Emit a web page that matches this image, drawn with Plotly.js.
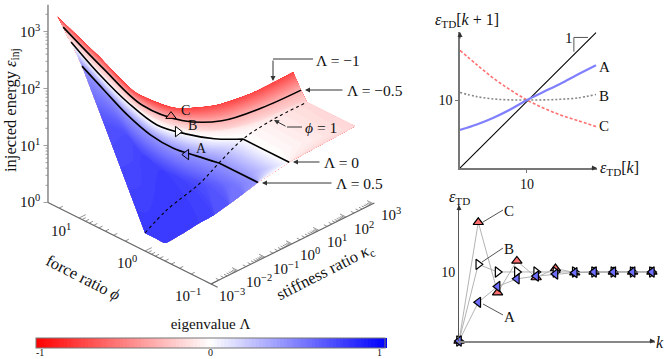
<!DOCTYPE html>
<html>
<head>
<meta charset="utf-8">
<script src="https://cdn.plot.ly/plotly-3.0.1.min.js"></script>
<style>
  html, body { margin: 0; padding: 0; background: #fff; }
  #chart { width: 665px; height: 359px; }
</style>
</head>
<body>
<div id="chart"></div>
<script>
// surface rows, all values are log10 of phi, kappa and injected energy
// rowShade is the eigenvalue the picture shows along each row
const rowShade = [-0.72, -0.3, -0.18, -0.16, 0, 0.42];

const phiM100 = [1.33, 1.14, 0.96, 0.77, 0.58, 0.40, 0.21, 0.21, 0.21];
const kapM100 = [-3, -2, -1, 0, 1, 2, 3, 3, 3];
const epsM100 = [3.35, 2.56, 1.76, 1.36, 1.28, 1.38, 1.61, 1.61, 1.61];

const phiM050 = [1.24, 1.05, 0.857, 0.665, 0.473, 0.282, 0.09, 0.09, 0.09];
const kapM050 = [-3, -2, -1, 0, 1, 2, 3, 3, 3];
const epsM050 = [3.21, 2.37, 1.59, 1.20, 1.07, 1.17, 1.36, 1.36, 1.36];

const phiM030 = [1.197, 0.998, 0.798, 0.599, 0.399, 0.2, 0, 0, 0];
const kapM030 = [-3, -2, -1, 0, 1, 2, 3, 3, 3];
const epsM030 = [3.13, 2.28, 1.51, 1.14, 0.99, 1.08, 1.20, 1.20, 1.20];

const phiM025 = [1.197, 0.998, 0.798, 0.599, 0.399, 0.2, 0, -0.36, -0.73];
const kapM025 = [-3, -2, -1, 0, 1, 2, 3, 3, 3];
const epsM025 = [3.10, 2.25, 1.48, 1.11, 0.96, 1.05, 1.20, 1.20, 1.20];

const phiZero = [1.12, 0.933, 0.747, 0.56, 0.373, 0.187, 0, -0.35, -0.70];
const kapZero = [-3, -2.395, -1.79, -1.185, -0.58, 0.025, 0.63, 0.63, 0.63];
const epsZero = [3.02, 2.41, 1.88, 1.46, 1.27, 1.15, 1.11, 1.11, 1.11];

const phiP050 = [0.955, 0.796, 0.637, 0.478, 0.318, 0.159, 0, -0.295, -0.59];
const kapP050 = [-3, -2.543, -2.087, -1.63, -1.173, -0.717, -0.26, -0.26, -0.26];
const epsP050 = [2.69, 2.24, 1.80, 1.44, 1.19, 1.04, 0.90, 0.90, 0.90];

const phiMid = [0.621, 0.426, 0.291, 0.333, 0.173, 0.024, -0.061, -0.318, -0.59];
const kapMid = [-3, -2.7, -2.4, -1.63, -1.17, -0.72, -0.26, -0.26, -0.26];
const epsMid = [1.87, 1.72, 1.37, 0.91, 0.71, 0.61, 0.53, 0.72, 0.90];
const shadeMid = [0.68, 0.7, 0.74, 0.76, 0.74, 0.68, 0.6, 0.5, 0.42];

const phiEdge = [0, -0.152, -0.303, -0.351, -0.399, -0.447, -0.494, -0.542, -0.59];
const kapEdge = [-3, -3, -3, -2.543, -2.087, -1.63, -1.173, -0.717, -0.26];
const epsEdge = [0.316, 0.316, 0.316, 0.38, 0.47, 0.54, 0.65, 0.77, 0.90];
const shadeEdge = [0.78, 0.78, 0.78, 0.78, 0.78, 0.76, 0.68, 0.56, 0.42];

// phi = 1 line
const kapPhiOne = [-3, -2.19, -0.96, -0.26, 0.63, 1.7, 3];
const epsPhiOne = [0.316, 0.53, 0.71, 0.90, 1.11, 1.19, 1.20];

// operating points A, B, C on the surface
const pointNames = ["C", "B", "A"];
const pointPhi = [0.719, 0.425, 0.227];
const pointKap = [-0.28, -0.75, -0.913];
const pointEps = [1.31, 1.32, 1.07];

// return map, top right
const mapK = [0, 2.5, 5, 7.5, 10, 12.5, 15, 17.5, 20.3];
const mapA = [5.6, 6.4, 7.4, 8.6, 10, 11.2, 12.4, 13.7, 15.1];
const mapB = [11.1, 10.5, 10.15, 10.02, 10, 10.02, 10.1, 10.3, 10.8];
const mapC = [17.3, 15.2, 13.2, 11.5, 10, 8.8, 7.8, 7.0, 6.1];

// iterates, bottom right
const iterK = [0, 1, 2, 3, 4, 5, 6, 7, 8, 9, 10];
const iterA = [0, 5.6, 7.9, 9, 9.4, 9.7, 9.9, 10, 10, 10, 10];
const iterB = [0, 11.1, 10, 10, 10, 10, 10, 10, 10, 10, 10];
const iterC = [0, 17.2, 7, 11.6, 9.2, 10.5, 9.9, 10, 10, 10, 10];

// oblique view of the log box
function px(p, q) { return 211 - 66 * (p + 1) + 27 * (q + 3); }
function py(p, q, e) { return 284 - 33 * (p + 1) - 13.4 * (q + 3) - 57 * e; }
function projX(ps, qs) { return ps.map((p, i) => px(p, qs[i])); }
function projY(ps, qs, es) { return ps.map((p, i) => py(p, qs[i], es[i])); }

const serif = '"Liberation Serif", "DejaVu Serif", serif';
const rows = [
  [phiM100, kapM100, epsM100],
  [phiM050, kapM050, epsM050],
  [phiM030, kapM030, epsM030],
  [phiM025, kapM025, epsM025],
  [phiZero, kapZero, epsZero],
  [phiP050, kapP050, epsP050],
  [phiMid, kapMid, epsMid],
  [phiEdge, kapEdge, epsEdge],
];
const colIndex = phiZero.map((_, i) => i);
const rowIndex = rows.map((_, i) => i);
const carpetA = {
  showgrid: false, showline: false, startline: false, endline: false,
  showticklabels: "none", minorgridcount: 0, smoothing: 0.6,
};
const carpetB = Object.assign({}, carpetA, { smoothing: 0 });

const shadeGrid = rowShade.map((l) => colIndex.map(() => l)).concat([shadeMid, shadeEdge]);

const traces = [];
traces.push({
  type: "carpet", carpet: "surf", a: colIndex, b: rowIndex,
  x: rows.map((r) => projX(r[0], r[1])),
  y: rows.map((r) => projY(r[0], r[1], r[2])),
  aaxis: carpetA, baxis: carpetB,
  hoverinfo: "skip",
});
traces.push({
  type: "contourcarpet", carpet: "surf", a: colIndex, b: rowIndex, z: shadeGrid,
  autocontour: false,
  contours: { start: -1, end: 1, size: 0.02, coloring: "fill", showlines: false },
  line: { width: 0 },
  zmin: -1, zmax: 1,
  colorscale: [[0, "#ff0000"], [0.5, "#ffffff"], [1, "#0000ff"]],
  colorbar: {
    orientation: "h", x: 36 / 665, xanchor: "left", y: 37 / 359, yanchor: "top",
    len: 349 / 665, thickness: 10, xpad: 0, ypad: 0,
    outlinecolor: "#777", outlinewidth: 1,
    showticklabels: false, ticks: "",
    title: { text: "eigenvalue Λ", side: "top", font: { family: serif, size: 15, color: "#111" } },
  },
  hoverinfo: "skip",
});

// box axes with log ticks
function logTicks(from, to, place) {
  const xs = [], ys = [];
  for (let d = Math.floor(from); d <= Math.ceil(to); d++) {
    for (let m = 1; m < 10; m++) {
      const v = d + Math.log10(m);
      if (v < from || v > to) continue;
      const seg = place(v, m === 1 ? 1 : 0.55);
      xs.push(seg[0], seg[2], null);
      ys.push(seg[1], seg[3], null);
    }
  }
  return { xs, ys };
}
function boxLine(xs, ys, color, width) {
  return { type: "scatter", mode: "lines", x: xs, y: ys, line: { color, width }, hoverinfo: "skip" };
}
const epsTicks = logTicks(0, 3.47, (v, s) => [px(1.47, -3), py(1.47, -3, v), px(1.47, -3) - 4.5 * s, py(1.47, -3, v)]);
const phiTicks = logTicks(-1, 1.47, (v, s) => [px(v, -3), py(v, -3, 0), px(v, -3 + 0.25 * s), py(v, -3 + 0.25 * s, 0)]);
const kapTicks = logTicks(-3, 3, (v, s) => [px(-1, v), py(-1, v, 0), px(-1 + 0.09 * s, v), py(-1 + 0.09 * s, v, 0)]);
traces.push(boxLine([px(1.47, -3), px(1.47, -3)], [py(1.47, -3, 0), py(1.47, -3, 3.47)], "#888", 1.5));
traces.push(boxLine(epsTicks.xs, epsTicks.ys, "#888", 0.8));
traces.push(boxLine([px(1.47, -3), px(-1.1, -3)], [py(1.47, -3, 0), py(-1.1, -3, 0)], "#666", 1.2));
traces.push(boxLine(phiTicks.xs, phiTicks.ys, "#777", 0.8));
traces.push(boxLine([px(-1, -3), px(-1, 3.05)], [py(-1, -3, 0), py(-1, 3.05, 0)], "#666", 1.2));
traces.push(boxLine(kapTicks.xs, kapTicks.ys, "#777", 0.8));

// constant eigenvalue lines
function surfLine(ps, qs, es, from, to, dash, width, shape) {
  return {
    type: "scatter", mode: "lines",
    x: projX(ps, qs).slice(from, to), y: projY(ps, qs, es).slice(from, to),
    line: { color: "#000", width, dash: dash || "solid", shape: shape || "spline" },
    hoverinfo: "skip",
  };
}
traces.push(surfLine(phiM050, kapM050, epsM050, 0, 7, null, 1.6));
traces.push(surfLine(phiZero, kapZero, epsZero, 0, 7, null, 1.6));
traces.push(surfLine(phiZero, kapZero, epsZero, 6, 9, null, 1.6, "linear"));
traces.push(surfLine(phiP050, kapP050, epsP050, 0, 7, null, 1.6));
traces.push(surfLine(phiP050, kapP050, epsP050, 6, 9, null, 1.6, "linear"));
traces.push(surfLine(kapPhiOne.map(() => 0), kapPhiOne, epsPhiOne, 0, 7, "dot", 1.1));

traces.push({
  type: "scatter", mode: "markers",
  x: projX(pointPhi, pointKap), y: projY(pointPhi, pointKap, pointEps),
  marker: {
    size: 9,
    symbol: ["triangle-up", "triangle-right", "triangle-left"],
    color: ["#ff8080", "#ffffff", "#8080ff"],
    line: { color: "#000", width: 1 },
  },
  hoverinfo: "skip",
});

// return map
function mapLine(y, color, width, dash) {
  return {
    type: "scatter", mode: "lines", x: mapK, y, xaxis: "x2", yaxis: "y2",
    line: { color, width, dash, shape: "spline" }, hoverinfo: "skip",
  };
}
traces.push({
  type: "scatter", mode: "lines", x: [0, 20.3], y: [0, 19.9], xaxis: "x2", yaxis: "y2",
  line: { color: "#000", width: 1.1 }, hoverinfo: "skip",
});
traces.push({
  type: "scatter", mode: "lines", x: [17, 17, 19.1], y: [17.1, 19.2, 19.2], xaxis: "x2", yaxis: "y2",
  line: { color: "#555", width: 1 }, hoverinfo: "skip",
});
traces.push(mapLine(mapC, "#ff7070", 1.6, "3px,2px"));
traces.push(mapLine(mapB, "#888888", 1.6, "2px,2px"));
traces.push(mapLine(mapA, "#8080ff", 2.2, "solid"));

// iterates
function iterLine(y, symbol, color) {
  return {
    type: "scatter", mode: "lines+markers", x: iterK, y, xaxis: "x3", yaxis: "y3",
    cliponaxis: false,
    line: { color: "#aaa", width: 0.9 },
    marker: { size: 9, symbol, color, line: { color: "#000", width: 1.2 } },
    hoverinfo: "skip",
  };
}
traces.push(iterLine(iterC, "triangle-up", "#ff6f6f"));
traces.push(iterLine(iterB, "triangle-right", "#ffffff"));
traces.push(iterLine(iterA, "triangle-left", "#6f6fff"));

function label(x, y, text, size, angle, anchor) {
  return {
    x, y, xref: "x", yref: "y", text, showarrow: false, textangle: angle || 0,
    xanchor: anchor || "center", yanchor: "middle",
    font: { family: serif, size: size || 14, color: "#111" },
  };
}
function arrow(x0, y0, x1, y1, head) {
  return {
    x: x1, y: y1, ax: x0, ay: y0, xref: "x", yref: "y", axref: "x", ayref: "y",
    text: "", showarrow: true, arrowhead: head === undefined ? 2 : head,
    arrowsize: 1, arrowwidth: 1, arrowcolor: "#333", standoff: 0,
  };
}
function segment(x0, y0, x1, y1, color) {
  return { type: "line", xref: "x", yref: "y", x0, y0, x1, y1, line: { color: color || "#333", width: 1 } };
}

const pointLabels = pointNames.map((name, i) =>
  label(px(pointPhi[i], pointKap[i]) + 8, py(pointPhi[i], pointKap[i], pointEps[i]) - 6, name, 14, 0, "left")
);

const annotations = [
  label(11, 110, "injected energy <i>ε</i><sub>inj</sub>", 16.5, -90),
  label(30, py(1.47, -3, 3), "10<sup>3</sup>", 15),
  label(30, py(1.47, -3, 2), "10<sup>2</sup>", 15),
  label(30, py(1.47, -3, 1), "10<sup>1</sup>", 15),
  label(30, py(1.47, -3, 0) - 1, "10<sup>0</sup>", 15),
  label(61, 230, "10<sup>1</sup>", 15),
  label(127, 262, "10<sup>0</sup>", 15),
  label(188, 295, "10<sup>−1</sup>", 15),
  label(83, 277, "force ratio <i>ϕ</i>", 16.5, 27),
  label(232, 295, "10<sup>−3</sup>", 15),
  label(259, 281, "10<sup>−2</sup>", 15),
  label(286, 268, "10<sup>−1</sup>", 15),
  label(310, 254, "10<sup>0</sup>", 15),
  label(337, 241, "10<sup>1</sup>", 15),
  label(364, 228, "10<sup>2</sup>", 15),
  label(391, 214, "10<sup>3</sup>", 15),
  label(325, 272, "stiffness ratio <i>κ</i><sub>c</sub>", 16.5, -27),

  label(40, 352.5, "-1", 10),
  label(210, 352.5, "0", 10),
  label(379, 352.5, "1", 10),

  label(314, 60, "Λ = −1", 15.5, 0, "left"),
  label(345, 90, "Λ = −0.5", 15.5, 0, "left"),
  label(322, 162, "Λ = 0", 15.5, 0, "left"),
  label(334, 183, "Λ = 0.5", 15.5, 0, "left"),
  label(303, 127, "<i>ϕ</i> = 1", 15.5, 0, "left"),
  arrow(273, 59, 273, 81),
  arrow(344, 90, 305, 90),
  arrow(321, 162, 293, 162),
  arrow(333, 183, 262, 183),
  arrow(287, 127, 274, 120),

  label(597, 67, "A", 15, 0, "left"),
  label(597, 96, "B", 15, 0, "left"),
  label(597, 126, "C", 15, 0, "left"),
  label(569, 38, "1", 15),
  label(433, 20, "<i>ε</i><sub>TD</sub>[<i>k</i> + 1]", 16, 0, "left"),
  label(598, 168, "<i>ε</i><sub>TD</sub>[<i>k</i>]", 16, 0, "left"),
  arrow(460, 40, 460, 32),
  arrow(590, 168, 597, 168),

  label(509, 211, "C", 15),
  label(509, 249, "B", 15),
  label(509, 317, "A", 15),
  label(459, 197, "<i>ε</i><sub>TD</sub>", 16),
  label(660, 342, "<i>k</i>", 16),
  arrow(459, 212, 459, 205),
  arrow(648, 341, 655, 341),
].concat(pointLabels);

const layout = {
  width: 665, height: 359,
  margin: { l: 0, r: 0, t: 0, b: 0, autoexpand: false },
  paper_bgcolor: "#fff", plot_bgcolor: "rgba(0,0,0,0)",
  showlegend: false,
  font: { family: serif, size: 14, color: "#111" },
  xaxis: { domain: [0, 1], range: [0, 665], visible: false, fixedrange: true },
  yaxis: { domain: [0, 1], range: [359, 0], visible: false, fixedrange: true },
  xaxis2: {
    domain: [460 / 665, 597 / 665], range: [0, 20.45], anchor: "y2",
    showgrid: false, zeroline: false, showline: true, linecolor: "#777", linewidth: 1.6,
    tickvals: [10], ticktext: ["10"], ticks: "outside", ticklen: 3, tickcolor: "#777",
    tickfont: { family: serif, size: 14, color: "#111" },
  },
  yaxis2: {
    domain: [191 / 359, 327 / 359], range: [0, 20], anchor: "x2",
    showgrid: false, zeroline: false, showline: true, linecolor: "#777", linewidth: 1.6,
    tickvals: [10], ticktext: ["10"], ticks: "outside", ticklen: 3, tickcolor: "#777",
    tickfont: { family: serif, size: 14, color: "#111" },
  },
  xaxis3: {
    domain: [459 / 665, 655 / 665], range: [0, 10.16], anchor: "y3",
    showgrid: false, zeroline: false, showline: true, linecolor: "#888", linewidth: 1.6,
    tickvals: [], ticks: "",
  },
  yaxis3: {
    domain: [18 / 359, 154 / 359], range: [0, 19.7], anchor: "x3",
    showgrid: false, zeroline: false, showline: true, linecolor: "#555", linewidth: 1,
    tickvals: [10], ticktext: ["10"], ticks: "",
    tickfont: { family: serif, size: 14, color: "#111" },
  },
  shapes: [
    segment(313, 59, 273, 59),
    segment(302, 127, 287, 127),
    segment(483, 222, 503, 210, "#555"),
    segment(482, 262, 503, 248, "#555"),
    segment(483, 304, 503, 315, "#555"),
  ],
  annotations,
};

Plotly.newPlot("chart", traces, layout, { staticPlot: true, displayModeBar: false });
</script>
</body>
</html>
